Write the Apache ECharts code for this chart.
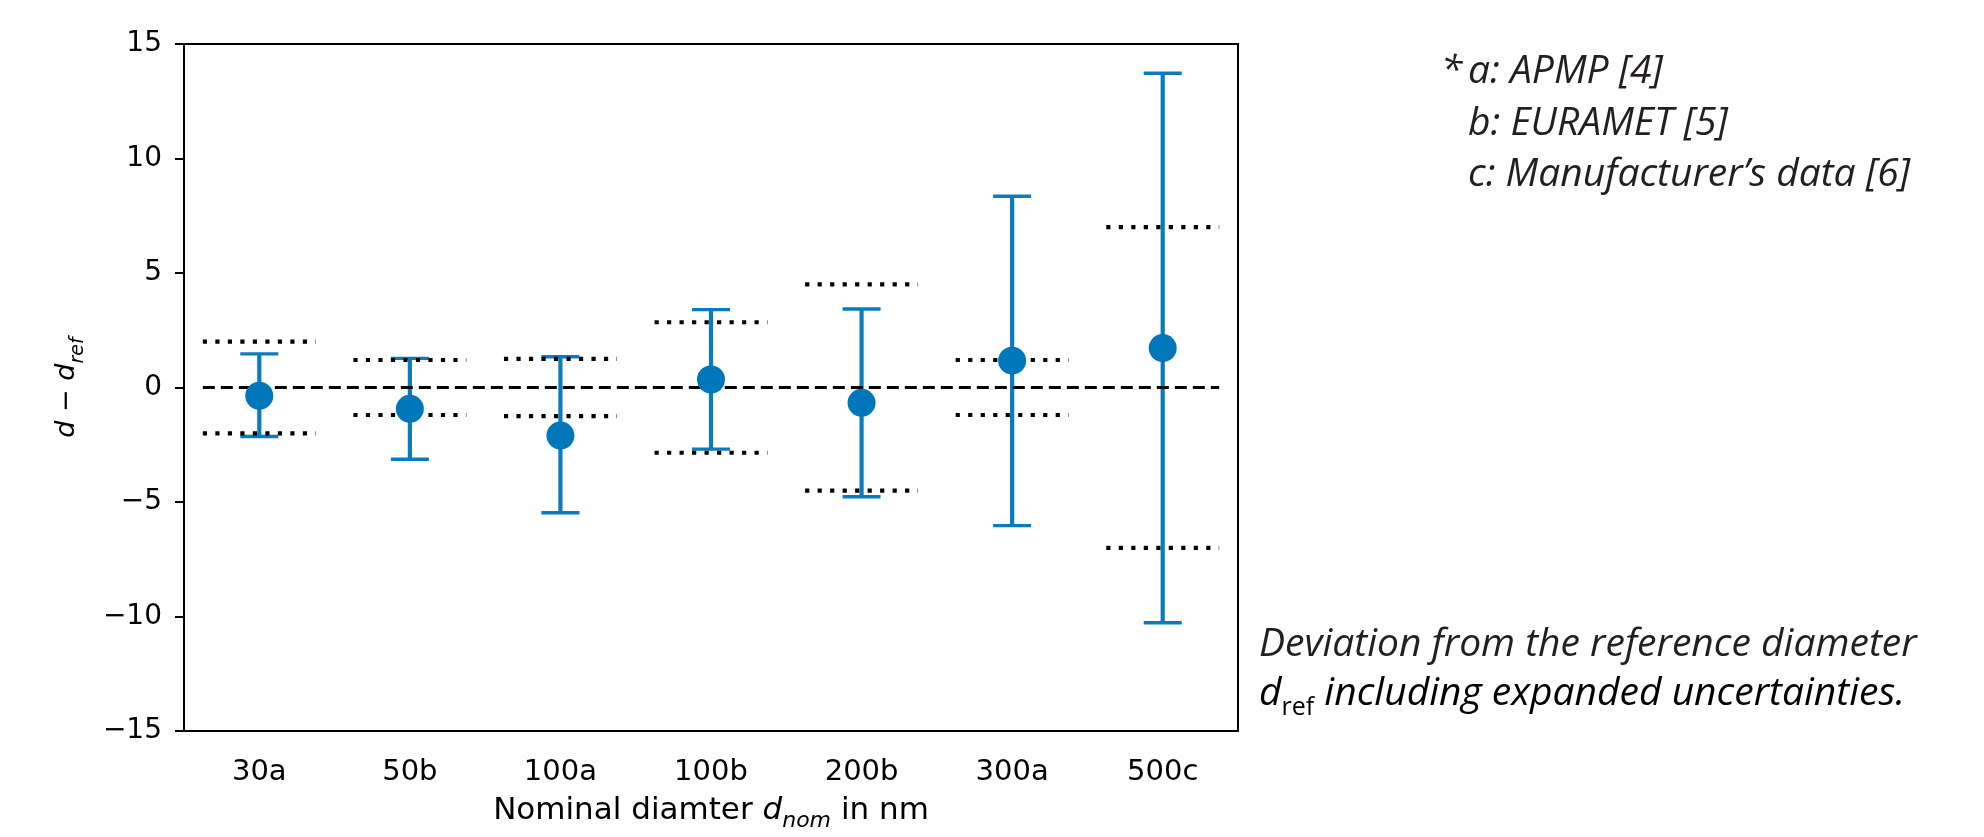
<!DOCTYPE html>
<html>
<head>
<meta charset="utf-8">
<script src="https://cdn.jsdelivr.net/npm/echarts@6/dist/echarts.min.js"></script>
<style>
  html, body { margin: 0; padding: 0; background: #fff; }
  #chart { width: 1984px; height: 837px; }
</style>
</head>
<body>
<div id="chart"></div>
<script>
// nominal diameters with source letter
const categories = ['30a', '50b', '100a', '100b', '200b', '300a', '500c']
// d - d_ref
const deviation = [-0.36, -0.93, -2.1, 0.35, -0.67, 1.17, 1.72]
const upperU = [1.47, 1.27, 1.34, 3.4, 3.43, 8.35, 13.72]
const lowerU = [-2.14, -3.13, -5.47, -2.69, -4.77, -6.03, -10.27]
// certified tolerance (dotted, +/-)
const tolerance = [2.0, 1.2, 1.25, 2.85, 4.5, 1.2, 7.0]
const yMin = -15
const yMax = 15
const yStep = 5

const blue = '#0077bb'
const barBlue = '#0a7cbd'
const tickFont = 'DejaVu Sans'
const noteFont = 'italic 39px "Open Sans"'
const noteColor = '#231f20'

const chart = echarts.init(document.getElementById('chart'))

const errData = categories.map((c, i) => [i, lowerU[i], upperU[i]])
const tolData = categories.map((c, i) => [i, tolerance[i]])

function mathRich(size) {
  return {
    n: { fontFamily: tickFont, fontSize: size, color: '#000', lineHeight: 42, verticalAlign: 'middle' },
    i: { fontFamily: tickFont, fontStyle: 'italic', fontSize: size, color: '#000', lineHeight: 42, verticalAlign: 'middle' },
    s: { fontFamily: tickFont, fontStyle: 'italic', fontSize: Math.round(size * 0.7), color: '#000', lineHeight: 25, verticalAlign: 'bottom' }
  }
}

const option = {
  animation: false,
  grid: {
    left: 184,
    top: 44,
    width: 1054,
    height: 687,
    show: true,
    borderColor: '#000',
    borderWidth: 2
  },
  xAxis: {
    type: 'category',
    data: categories,
    axisLine: { onZero: false, lineStyle: { color: '#000', width: 2 } },
    axisTick: { alignWithLabel: true, length: 9, lineStyle: { color: '#000', width: 2 } },
    axisLabel: { fontFamily: tickFont, fontSize: 29, color: '#000', margin: 27 },
    splitLine: { show: false },
    name: '{n|Nominal diamter }{i|d}{s|nom}{n| in nm}',
    nameLocation: 'middle',
    nameGap: 59,
    nameTextStyle: { rich: mathRich(31) }
  },
  yAxis: {
    type: 'value',
    min: yMin,
    max: yMax,
    interval: yStep,
    axisLine: { show: true, lineStyle: { color: '#000', width: 2 } },
    axisTick: { show: true, length: 9, lineStyle: { color: '#000', width: 2 } },
    axisLabel: {
      fontFamily: tickFont, fontSize: 28, color: '#000', margin: 22,
      formatter: v => (v < 0 ? '\u2212' + Math.abs(v) : String(v))
    },
    splitLine: { show: false },
    name: '{i|d}{n| \u2212 }{i|d}{s|ref}',
    nameLocation: 'middle',
    nameGap: 96,
    nameTextStyle: { rich: mathRich(27) }
  },
  series: [
    {
      // error bars
      type: 'custom',
      data: errData,
      encode: { x: 0, y: [1, 2] },
      z: 2,
      renderItem: (params, api) => {
        const x = api.value(0)
        const lo = api.coord([x, api.value(1)])
        const hi = api.coord([x, api.value(2)])
        const cap = 19
        const st = { stroke: barBlue, lineWidth: 4.2 }
        const capSt = { stroke: barBlue, lineWidth: 3.4 }
        return {
          type: 'group',
          children: [
            { type: 'line', shape: { x1: lo[0], y1: lo[1], x2: hi[0], y2: hi[1] }, style: st },
            { type: 'line', shape: { x1: hi[0] - cap, y1: hi[1], x2: hi[0] + cap, y2: hi[1] }, style: capSt },
            { type: 'line', shape: { x1: lo[0] - cap, y1: lo[1], x2: lo[0] + cap, y2: lo[1] }, style: capSt }
          ]
        }
      }
    },
    {
      // zero reference line
      type: 'custom',
      data: [[0, categories.length - 1, 0]],
      encode: { x: [0, 1], y: 2 },
      z: 3,
      renderItem: (params, api) => {
        const bw = api.size([1, 0])[0]
        const a = api.coord([api.value(0), api.value(2)])
        const b = api.coord([api.value(1), api.value(2)])
        return {
          type: 'line',
          shape: { x1: a[0] - 0.375 * bw, y1: a[1], x2: b[0] + 0.375 * bw, y2: b[1] },
          style: { stroke: '#000', lineWidth: 3, lineDash: [12, 6] }
        }
      }
    },
    {
      // tolerance limits
      type: 'custom',
      data: tolData,
      encode: { x: 0, y: 1 },
      z: 4,
      renderItem: (params, api) => {
        const bw = api.size([1, 0])[0]
        const x = api.value(0)
        const t = api.value(1)
        const p = api.coord([x, t])
        const m = api.coord([x, -t])
        const h = 0.375 * bw
        const st = { stroke: '#000', lineWidth: 4.2, lineDash: [4.2, 8.3] }
        return {
          type: 'group',
          children: [
            { type: 'line', shape: { x1: p[0] - h, y1: p[1], x2: p[0] + h, y2: p[1] }, style: st },
            { type: 'line', shape: { x1: m[0] - h, y1: m[1], x2: m[0] + h, y2: m[1] }, style: st }
          ]
        }
      }
    },
    {
      type: 'scatter',
      data: deviation,
      symbol: 'circle',
      symbolSize: 28,
      itemStyle: { color: blue, opacity: 1 },
      z: 5
    }
  ],
  graphic: [
    {
      type: 'text', x: 1441, y: 72,
      style: { text: '*', font: noteFont, fill: noteColor, verticalAlign: 'middle' }
    },
    {
      type: 'text', x: 1468, y: 72,
      style: { text: 'a: APMP [4]', font: noteFont, fill: noteColor, verticalAlign: 'middle' }
    },
    {
      type: 'text', x: 1468, y: 124,
      style: { text: 'b: EURAMET [5]', font: noteFont, fill: noteColor, verticalAlign: 'middle' }
    },
    {
      type: 'text', x: 1468, y: 175,
      style: { text: 'c: Manufacturer\u2019s data [6]', font: noteFont, fill: noteColor, verticalAlign: 'middle' }
    },
    {
      type: 'text', x: 1259, y: 645,
      style: { text: 'Deviation from the reference diameter', font: noteFont, fill: noteColor, verticalAlign: 'middle' }
    },
    {
      type: 'text', x: 1259, y: 694,
      style: {
        text: '{i|d}{s|ref}{i| including expanded uncertainties.}',
        verticalAlign: 'middle',
        rich: {
          i: { fontFamily: 'Open Sans', fontStyle: 'italic', fontSize: 39, color: noteColor, lineHeight: 52, verticalAlign: 'middle' },
          s: { fontFamily: 'Open Sans', fontSize: 25, color: noteColor, lineHeight: 30, verticalAlign: 'bottom' }
        }
      }
    }
  ]
}

chart.setOption(option)
</script>
</body>
</html>
